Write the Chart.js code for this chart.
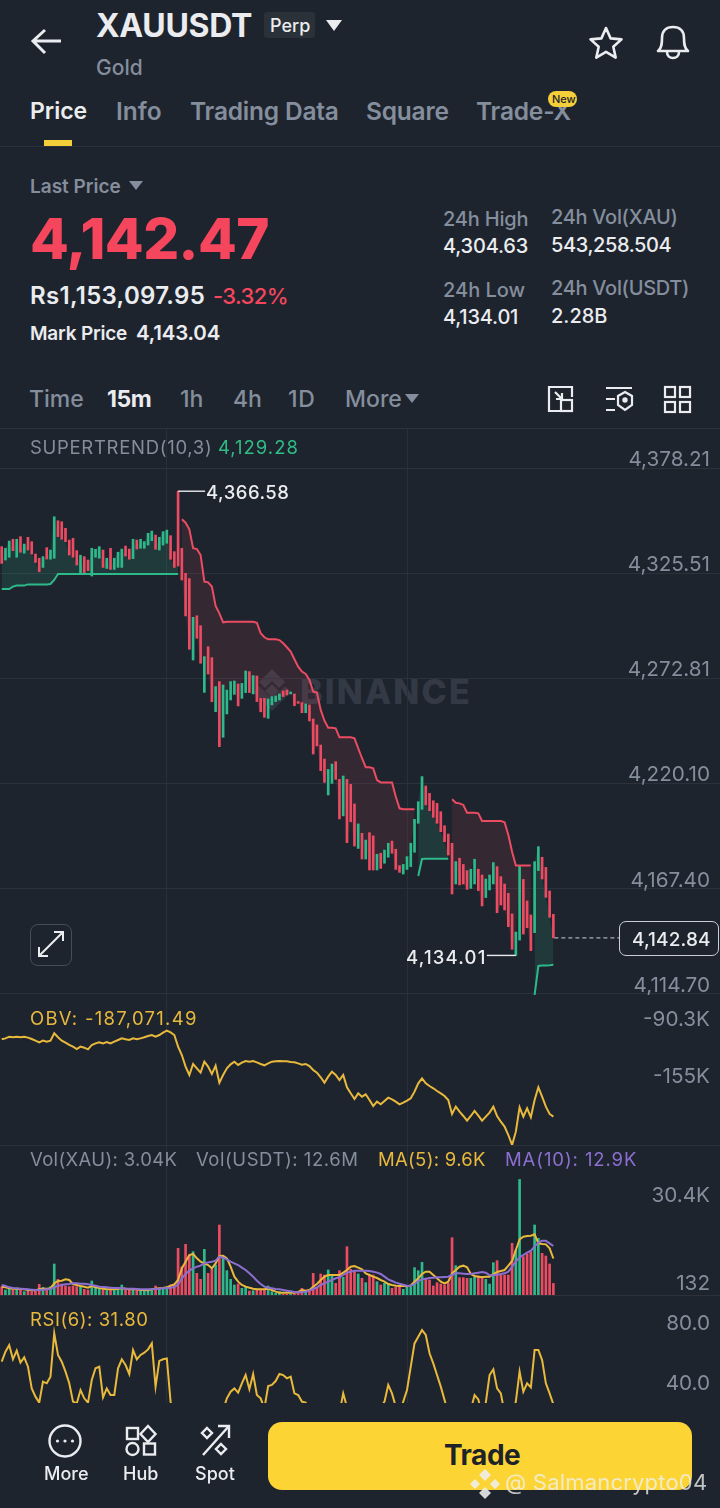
<!DOCTYPE html>
<html><head><meta charset="utf-8">
<script src="https://cdn.jsdelivr.net/npm/chart.js@4/dist/chart.umd.min.js"></script>
<style>
html,body{margin:0;padding:0;background:#1e242e;}
body{width:720px;height:1508px;overflow:hidden;position:relative;font-family:Inter,"Noto Sans",sans-serif;color:#eaecef;}
.t{position:absolute;white-space:nowrap;transform:translateY(-50%);line-height:1;}
.g{color:#848e9c;}
canvas{position:absolute;left:0;display:block;}
.ln{position:absolute;left:0;width:720px;height:1px;background:#2c323c;}
svg{position:absolute;overflow:visible;}
</style></head><body>
<div class="t" style="left:96px;top:26px;font-size:32px;font-weight:700;letter-spacing:-.3px">XAUUSDT</div>
<div style="position:absolute;left:264px;top:12px;width:51px;height:26px;background:#2b3139;border-radius:3px"></div>
<div class="t" style="left:270px;top:26px;font-size:18px;font-weight:500">Perp</div>
<svg style="left:0;top:0" width="720" height="150" fill="none" stroke="#eaecef" stroke-width="3">
<path d="M326 20h16l-8 11z" fill="#eaecef" stroke="none"/>
<path d="M61 41H34M45 30L33 41l12 12"/>
<path d="M606 28l4.6 10.4 10.9 1-8.2 7.4 2.4 10.8-9.7-5.7-9.7 5.700 2.4-10.8-8.2-7.4 10.9-1z" stroke-width="2.6" stroke-linejoin="round"/>
<path d="M658 51c4-3 4-8 4-13 0-7 4-11 11-11s11 4 11 11c0 5 0 10 4 13z M667 52c0 8 12 8 12 0" stroke-width="2.6" stroke-linejoin="round"/>
</svg>
<div class="t g" style="left:96px;top:67px;font-size:21px;font-weight:500">Gold</div>
<div class="t" style="left:30px;top:111px;font-size:23px;font-weight:600">Price</div>
<div class="t g" style="left:116px;top:111px;font-size:24.5px;font-weight:600">Info</div>
<div class="t g" style="left:190px;top:111px;font-size:24.5px;font-weight:600;letter-spacing:-.2px">Trading Data</div>
<div class="t g" style="left:366px;top:111px;font-size:24.5px;font-weight:600;letter-spacing:-.2px">Square</div>
<div class="t g" style="left:476px;top:111px;font-size:24.5px;font-weight:600;letter-spacing:-.2px">Trade-X</div>
<div style="position:absolute;left:548px;top:91px;width:29px;height:16px;background:#f5cf3a;border-radius:8px"></div>
<div class="t" style="left:552px;top:99px;font-size:11px;color:#1e2329;font-weight:500">New</div>
<div style="position:absolute;left:44px;top:140px;width:28px;height:6px;background:#f5cf3a"></div>
<div class="ln" style="top:146px"></div>

<div class="t g" style="left:30px;top:186px;font-size:19px;font-weight:600">Last Price</div>
<svg style="left:0;top:0" width="720" height="420" fill="#848e9c"><path d="M129 181h14l-7 9z"/><path d="M405 394h14l-7 9z"/></svg>
<div class="t" style="left:30px;top:239px;font-size:56.5px;font-weight:800;color:#f6465d;letter-spacing:-.6px">4,142.47</div>
<div class="t" style="left:30px;top:296px;font-size:24px;font-weight:600;letter-spacing:.3px">Rs1,153,097.95</div>
<div class="t" style="left:213px;top:296px;font-size:22px;font-weight:500;color:#f6465d;letter-spacing:-.6px">-3.32%</div>
<div class="t" style="left:30px;top:333px;font-size:19px;font-weight:600;letter-spacing:-.2px">Mark Price</div>
<div class="t" style="left:136px;top:333px;font-size:20.5px;font-weight:600;letter-spacing:-.2px">4,143.04</div>
<div class="t g" style="left:443px;top:219px;font-size:20px;font-weight:500;letter-spacing:-.2px">24h High</div>
<div class="t" style="left:443px;top:246px;font-size:20px;font-weight:500;letter-spacing:-.2px">4,304.63</div>
<div class="t g" style="left:443px;top:290px;font-size:20px;font-weight:500">24h Low</div>
<div class="t" style="left:443px;top:317px;font-size:20px;font-weight:500;letter-spacing:-.2px">4,134.01</div>
<div class="t g" style="left:551px;top:217px;font-size:20px;font-weight:500;letter-spacing:-.3px">24h Vol(XAU)</div>
<div class="t" style="left:551px;top:245px;font-size:20px;font-weight:500;letter-spacing:-.4px">543,258.504</div>
<div class="t g" style="left:551px;top:288px;font-size:20px;font-weight:500;letter-spacing:-.3px">24h Vol(USDT)</div>
<div class="t" style="left:551px;top:316px;font-size:20px;font-weight:500">2.28B</div>

<div class="t g" style="left:29px;top:399px;font-size:23px;font-weight:500">Time</div>
<div class="t" style="left:107px;top:399px;font-size:23px;font-weight:700;letter-spacing:-.4px">15m</div>
<div class="t g" style="left:180px;top:399px;font-size:23px;font-weight:500">1h</div>
<div class="t g" style="left:233px;top:399px;font-size:23px;font-weight:500">4h</div>
<div class="t g" style="left:288px;top:399px;font-size:23px;font-weight:500;letter-spacing:.8px">1D</div>
<div class="t g" style="left:345px;top:399px;font-size:23px;font-weight:500">More</div>
<svg style="left:0;top:0" width="720" height="420" fill="none" stroke="#eaecef" stroke-width="2.2">
<path d="M560 387h-11v24h11M560 387h12v10"/><rect x="561" y="400" width="11" height="11"/><path d="M555 392l7 7M562 393v6h-6"/>
<path d="M606 388h26M606 399h9M606 410h9"/><path d="M625 392l7 4v9l-7 5-7-5v-9z"/><circle cx="625" cy="400" r="1.6" fill="#eaecef"/>
<rect x="665" y="387" width="10" height="10"/><rect x="680" y="387" width="10" height="10"/><rect x="665" y="402" width="10" height="10"/><rect x="680" y="402" width="10" height="10"/>
</svg>
<div class="ln" style="top:428px"></div>

<!-- watermark under the chart -->
<svg style="left:0;top:0" width="720" height="720" fill="#343a45"><path d="M272 669l13 13-6 6-7-7-7 7-6-6z"/><path d="M272 699l13-13 0 0 6 6-19 19-19-19 6-6z" opacity=".8"/><path d="M272 684l7 7-7 7-7-7z"/></svg>
<div class="t" style="left:300px;top:692px;font-size:34px;font-weight:800;color:#343a45;letter-spacing:2.2px">BINANCE</div>

<canvas id="cPrice" width="720" height="566" style="top:429px;width:720px;height:566px"></canvas>
<canvas id="cObv" width="720" height="150" style="top:995px;width:720px;height:150px"></canvas>
<canvas id="cVol" width="720" height="150" style="top:1145px;width:720px;height:150px"></canvas>
<canvas id="cRsi" width="720" height="108" style="top:1295px;width:720px;height:108px"></canvas>
<div class="ln" style="top:1145px"></div>
<div class="ln" style="top:1295px"></div>

<div class="t g" style="left:30px;top:447px;font-size:18.5px;letter-spacing:.7px">SUPERTREND(10,3)</div>
<div class="t" style="left:218px;top:447px;font-size:18.5px;color:#2ebd85;letter-spacing:1px">4,129.28</div>
<div class="t" style="left:206px;top:492px;font-size:18.5px;font-weight:500;letter-spacing:.5px">4,366.58</div>
<div class="t" style="left:406px;top:957px;font-size:18.5px;font-weight:500;letter-spacing:1.2px">4,134.01</div>
<div style="position:absolute;left:619px;top:921px;width:98px;height:33px;border:1.5px solid #c9ced6;border-radius:7px;background:#1e242e"></div>
<div class="t" style="left:632px;top:939px;font-size:19px;font-weight:500;letter-spacing:.1px">4,142.84</div>
<div style="position:absolute;left:30px;top:924px;width:40px;height:40px;border:1.5px solid #474d58;border-radius:8px"></div>
<svg style="left:0;top:0" width="120" height="980" fill="none" stroke="#eaecef" stroke-width="2"><path d="M39 956l24-24M39 947v9h9M63 941v-9h-9"/></svg>

<div class="t" style="left:30px;top:1018px;font-size:18.5px;color:#e9b93c;letter-spacing:1.3px">OBV: -187,071.49</div>
<div class="t g" style="left:30px;top:1159px;font-size:18.5px;letter-spacing:.35px">Vol(XAU): 3.04K</div>
<div class="t g" style="left:196px;top:1159px;font-size:18.5px;letter-spacing:.55px">Vol(USDT): 12.6M</div>
<div class="t" style="left:378px;top:1159px;font-size:18.5px;color:#e9b93c;letter-spacing:.3px">MA(5): 9.6K</div>
<div class="t" style="left:505px;top:1159px;font-size:18.5px;color:#8c6fd0;letter-spacing:.9px">MA(10): 12.9K</div>
<div class="t" style="left:30px;top:1319px;font-size:18.5px;color:#e9b93c;letter-spacing:.55px">RSI(6): 31.80</div>

<div style="position:absolute;left:268px;top:1422px;width:424px;height:68px;border-radius:14px;background:#fcd535"></div>
<div class="t" style="left:444px;top:1455px;font-size:28px;font-weight:700;color:#1e2329;letter-spacing:-.5px">Trade</div>
<svg style="left:0;top:1400px" width="300" height="70" fill="none" stroke="#eaecef" stroke-width="2.4">
<circle cx="65" cy="41" r="15.5"/><circle cx="57.5" cy="41" r="1.6" fill="#eaecef" stroke="none"/><circle cx="65" cy="41" r="1.6" fill="#eaecef" stroke="none"/><circle cx="72.5" cy="41" r="1.6" fill="#eaecef" stroke="none"/>
<rect x="127" y="28" width="11" height="11"/><path d="M148 26l7.500 8-7.500 8-7.500-8z"/><circle cx="132.500" cy="49" r="6"/><rect x="144" y="43.500" width="11" height="11"/>
<path d="M203 55l26-29M218 26h11v12"/><path d="M207 28l5 5-5 5-5-5z"/><path d="M221 44l5 5-5 5-5-5z"/>
</svg>
<div class="t" style="left:44px;top:1474px;font-size:18px;font-weight:500">More</div>
<div class="t" style="left:123px;top:1474px;font-size:18px;font-weight:500">Hub</div>
<div class="t" style="left:195px;top:1474px;font-size:18px;font-weight:500">Spot</div>
<svg style="left:0;top:1460px" width="720" height="48" fill="#f0f0f0" opacity=".88"><path d="M485 9l6 6-6 6-6-6z"/><path d="M475 19l5 5-5 5-5-5zM495 19l5 5-5 5-5-5z"/><path d="M485 27l6 6-6 6-6-6z"/></svg>
<div class="t" style="left:505px;top:1482px;font-size:22px;color:#f0f0f0;opacity:.78;letter-spacing:.2px">@ Salmancrypto04</div>

<script>
// Candle opens and closes (USDT)
const candleOpen = [4338.8,4332.1,4333.5,4342.5,4333.5,4343.8,4335.5,4343.5,4341.3,4335.1,4333.0,4328.4,4338.3,4332.5,4333.0,4351.8,4351.3,4348.0,4342.1,4343.0,4336.8,4325.4,4333.8,4332.1,4324.1,4333.5,4333.0,4337.1,4327.9,4338.0,4327.4,4328.4,4328.4,4339.1,4337.6,4332.8,4342.1,4338.0,4338.0,4339.6,4341.8,4344.6,4337.1,4339.6,4340.5,4344.3,4336.3,4366.6,4338.0,4325.4,4322.8,4282.0,4304.2,4299.2,4265.8,4288.7,4283.2,4256.1,4271.2,4243.3,4255.0,4262.0,4264.8,4270.0,
4262.8,4265.7,4276.2,4265.0,4274.0,4262.8,4262.8,4252.8,4259.5,4261.2,4262.0,4266.5,4267.0,4265.0,4265.0,4261.2,4260.7,4255.6,4259.5,4252.5,4249.5,4239.4,4232.4,4214.4,4220.2,4231.1,4222.2,4203.9,4222.2,4219.7,4209.9,4187.6,4195.2,4182.3,4195.5,4193.9,4176.8,4185.2,4180.2,4183.2,4191.3,4187.2,4179.0,4174.8,4177.1,4178.5,4185.7,
4200.2,4207.2,4218.9,4215.2,4211.5,4210.2,4206.0,4199.0,4194.8,4190.2,4169.8,4182.7,4179.6,4176.5,4167.6,4169.8,4177.2,4174.3,4163.0,4166.8,4169.8,4178.5,4173.5,4169.8,4165.1,4154.8,4134.01,4141.7,4172.1,4161.3,4154.3,4145.4,4176.5,4183.2,4178.1,4166.3,4154.6];
const candleClose = [4330.4,4338.0,4341.6,4336.8,4342.5,4336.0,4340.1,4337.1,4335.1,4330.9,4326.3,4333.8,4332.6,4337.1,4353.8,4343.8,4342.5,4341.3,4334.6,4333.5,4329.6,4334.5,4325.4,4326.8,4338.0,4337.5,4338.8,4328.4,4333.0,4327.4,4333.0,4336.0,4337.6,4334.1,4332.5,4342.5,4337.6,4342.5,4341.3,4345.5,4346.6,4337.5,4343.5,4346.3,4347.1,4332.5,4328.4,4329.1,4322.1,4304.1,4287.4,4303.4,4292.9,4280.4,4283.7,4275.0,4261.1,4268.7,4238.6,4269.5,4267.0,4271.2,4271.5,4259.0,
4270.3,4276.5,4265.7,4274.2,4261.2,4256.1,4253.3,4262.5,4263.7,4264.0,4265.0,4263.7,4264.5,4266.0,4259.1,4260.3,4255.6,4260.0,4251.5,4234.9,4239.0,4226.6,4220.7,4227.2,4229.9,4222.2,4202.4,4223.9,4190.5,4201.0,4188.8,4199.9,4182.3,4191.8,4176.8,4176.8,4184.7,4177.6,4186.8,4190.2,4185.2,4177.1,4175.6,4179.6,4183.5,4190.2,4202.2,
4211.0,4223.6,4209.4,4206.5,4203.2,4200.2,4196.0,4191.0,4184.3,4164.8,4181.0,4169.3,4169.8,4167.1,4177.2,4182.2,4166.5,4158.8,4172.3,4174.3,4180.5,4155.4,4159.3,4156.8,4148.4,4137.1,4145.7,4178.8,4144.7,4147.9,4136.4,4181.0,4188.5,4172.3,4163.1,4153.1,4142.84];
// SUPERTREND(10,3) up and down legs
const superUp = [4317.6,4317.6,4317.6,4318.8,4319.3,4319.3,4319.3,4319.9,4319.9,4319.9,4319.9,4319.9,4319.9,4320.1,4322.1,
4325.1,4325.1,4325.1,4325.1,4325.1,4325.1,4325.1,4325.1,4325.1,4325.1,4325.1,4325.1,4325.1,4325.1,4325.1,4325.1,4325.1,4325.1,4325.1,4325.1,4325.1,4325.1,4325.1,4325.1,4325.1,4325.1,4325.1,4325.1,4325.1,4325.1,4325.1,4325.1,4325.1,
null,null,null,null,null,null,null,null,null,null,null,null,null,null,null,null,null,null,null,null,null,null,null,null,null,null,null,null,null,null,null,null,null,null,null,null,null,null,null,null,null,null,null,null,null,null,null,null,null,null,null,null,null,null,null,null,null,null,null,null,null,null,null,
4173.8,4182.3,4182.4,4182.4,4182.4,4182.4,4182.4,4182.4,4182.4,
null,null,null,null,null,null,null,null,null,null,null,null,null,null,null,null,null,null,null,null,null,null,
4114.2,4128.7,4128.9,4129.0,4129.1,4129.28];
const superDown = [null,null,null,null,null,null,null,null,null,null,null,null,null,null,null,null,null,null,null,null,null,null,null,null,null,null,null,null,null,null,null,null,null,null,null,null,null,null,null,null,null,null,null,null,null,null,null,null,
4352.5,4350.8,4347.5,4338.0,4337.6,4334.6,4321.3,4320.9,4318.8,4309.1,4305.4,4300.9,
4301.2,4301.2,4301.2,4301.2,4301.2,4301.2,4301.2,4301.2,
4300.7,4295.4,4293.4,4292.4,4292.4,4292.4,4292.0,4290.4,4288.4,4286.2,4282.4,4278.7,4276.2,4275.0,4272.0,4266.2,4265.7,4257.0,4251.6,4248.1,4248.1,4247.8,4243.3,4243.3,4243.3,4243.3,4242.8,4237.8,4232.8,4228.3,4228.3,4227.7,4221.9,4220.7,4220.7,4220.7,4220.7,4213.6,4207.7,4207.2,4207.2,4207.2,4207.2,
null,null,null,null,null,null,null,null,null,
4212.2,4210.5,4210.2,4209.4,4205.5,4205.5,4205.5,4205.2,4201.4,4201.4,4201.4,4201.4,4201.4,4201.4,4200.7,4194.3,4186.0,4179.1,4179.1,4179.1,4179.1,4179.1,
null,null,null,null,null,null];
// OBV in thousands
const obv = [-99.3,-98.2,-96.3,-97.0,-96.3,-97.0,-96.3,-97.4,-98.9,-100.8,-102.7,-100.8,-102.0,-100.8,-92.5,-97.0,-100.8,-103.1,-105.7,-107.6,-110.3,-107.6,-108.8,-110.7,-105.7,-103.9,-102.7,-103.9,-102.3,-103.9,-102.0,-100.1,-98.2,-99.3,-100.1,-98.2,-99.3,-98.2,-97.0,-95.5,-94.4,-96.3,-94.4,-91.7,-89.5,-91.4,-94.4,-107.6,-117.1,-130.3,-139.8,-127.3,-132.2,-137.1,-124.7,-130.3,-138.7,-129.2,-148.5,-139.8,-132.2,-127.7,-124.7,-128.4,-125.8,-123.9,-124.7,-123.9,-125.4,-127.3,-128.8,-126.6,-124.7,-124.3,-123.9,-124.3,-124.3,-125.0,-125.4,-126.6,-128.1,-127.3,-129.6,-134.1,-137.1,-142.4,-148.5,-141.7,-136.0,-139.8,-145.5,-139.8,-153.8,-160.6,-167.0,-160.6,-164.4,-161.7,-168.2,-175.0,-170.1,-173.1,-169.3,-165.5,-167.4,-170.1,-173.1,-171.2,-168.9,-166.3,-158.7,-149.3,-143.6,-149.3,-152.3,-154.9,-158.0,-160.6,-163.6,-168.2,-184.0,-175.7,-181.4,-186.3,-191.6,-186.3,-180.6,-185.9,-191.6,-187.1,-182.5,-175.7,-186.3,-192.8,-198.4,-207.9,-219.2,-204.1,-176.5,-187.1,-177.6,-187.8,-168.2,-153.8,-164.4,-175.7,-184.0,-187.07];
// Volume in thousands of XAU
const volume = [2.19,1.32,1.49,1.32,1.49,1.32,.88,1.05,.88,1.05,2.81,2.02,1.75,2.19,8.16,4.12,2.89,2.37,2.19,2.37,2.19,2.19,1.49,1.32,3.68,2.19,1.75,1.32,1.14,1.32,1.32,1.49,2.63,1.32,1.32,1.49,1.32,1.14,1.14,1.32,1.49,2.37,1.75,1.49,1.75,2.63,2.63,
12.28,7.45,13.33,10.52,11.40,5.70,4.12,12.01,5.70,6.75,7.89,18.42,10.09,6.40,4.12,2.63,2.89,1.75,2.02,1.05,1.14,1.32,1.49,1.49,2.37,.88,.44,.88,.26,.26,.26,.26,.44,1.75,.88,1.49,5.70,2.02,5.53,5.26,6.58,5.26,3.07,6.40,4.65,12.72,6.75,6.14,5.53,
4.39,3.25,5.26,5.26,3.51,2.63,3.07,3.07,1.75,2.02,2.19,1.49,2.02,2.19,7.19,6.40,8.59,4.39,3.95,2.37,3.25,2.89,2.63,3.07,15.08,7.72,4.56,4.56,4.39,4.39,4.65,5.0,4.82,4.12,2.89,8.51,9.03,5.26,5.26,5.26,13.59,11.84,30.4,10.09,10.79,11.40,18.42,14.91,10.96,10.26,8.16,3.04];
const ma5 = [2.19,2.02,1.75,1.67,1.67,1.58,1.49,1.32,1.23,1.23,1.49,1.67,1.67,1.75,3.07,3.68,3.77,4.12,3.95,2.89,2.63,2.37,2.19,1.93,2.37,2.02,1.84,1.67,1.49,1.49,1.49,1.67,1.75,1.67,1.49,1.49,1.49,1.32,1.32,1.23,1.49,1.67,1.75,1.84,2.02,2.46,2.81,3.95,7.02,8.77,10.52,10.79,9.65,8.77,8.33,7.89,7.02,8.33,10.26,10.35,9.65,7.45,4.82,3.51,2.63,2.19,1.93,1.67,1.49,1.49,1.49,1.67,1.32,.88,.61,.61,.61,.61,.61,.79,1.32,1.14,1.32,2.19,2.89,3.95,4.82,5.26,5.26,5.26,5.26,5.88,6.58,7.45,7.63,7.19,
6.75,5.70,5.26,4.82,4.47,3.95,3.51,2.89,2.63,2.46,2.37,2.37,2.28,2.54,3.51,4.39,5.53,6.14,6.14,5.26,4.39,3.51,3.07,3.51,5.70,6.58,7.45,7.72,7.28,5.53,5.0,4.82,4.65,4.82,4.82,5.53,6.05,6.31,6.58,7.72,8.95,11.84,14.65,15.35,15.52,15.61,15.96,13.59,13.42,13.33,12.28,9.6];
const ma10 = [2.63,2.37,2.02,1.84,1.75,1.67,1.58,1.49,1.40,1.32,1.32,1.40,1.49,1.58,2.02,2.46,2.63,2.81,2.89,3.07,3.07,2.98,2.98,2.81,2.63,2.46,2.19,2.10,2.02,1.93,1.84,1.84,1.84,1.67,1.67,1.67,1.58,1.49,1.49,1.49,1.49,1.58,1.67,1.75,1.84,1.93,2.10,
2.81,4.39,5.53,6.40,7.02,7.45,7.72,8.33,8.59,8.77,9.03,10.09,9.82,9.38,8.77,8.33,7.89,7.19,6.58,5.70,4.82,3.77,2.89,2.19,1.93,1.75,1.58,1.49,1.32,1.14,.96,.79,.70,.70,.88,1.14,1.58,2.02,2.63,3.07,3.51,3.95,4.39,4.65,5.26,5.88,6.14,6.40,6.40,
6.40,6.40,6.31,6.14,5.88,5.53,4.82,4.12,3.68,3.25,2.98,2.72,2.46,2.37,2.89,3.68,4.12,4.30,4.47,4.56,4.65,4.65,4.74,4.82,5.26,5.70,5.70,5.61,5.53,5.53,5.70,5.88,6.05,5.88,5.17,5.17,5.35,5.53,5.70,6.14,7.45,8.77,9.91,10.52,11.14,11.66,12.72,13.77,14.30,14.30,13.59,12.9];
const rsi = [60.2,66.9,71.3,61.8,67.6,59.6,63.1,56.9,42.4,36.9,32.9,46.9,45.8,50.2,79.1,64.7,60.2,53.6,45.8,33.6,32.4,41.3,35.8,32.9,48.0,55.8,56.9,36.4,42.4,38.0,38.0,55.8,61.8,58.0,52.0,68.0,61.8,64.7,66.2,68.4,72.4,43.6,60.7,61.8,62.4,33.6,
20,18,15,14,12,14,13,17,15,19,16,22,18,
28.0,35.8,40.2,42.4,39.6,45.8,51.3,41.8,52.0,38.0,35.8,29.1,44.0,44.7,47.3,52.0,51.3,49.1,50.2,39.1,38.0,33.6,32.9,
28,24,14,16,12,10,12,18,26,39.1,30,26,22,20,18,20,16,19,22,30,33.6,44.7,39.1,30.2,26.9,33.6,41.3,56.9,72.4,76.9,81.3,78.0,65.8,59.1,51.3,43.6,34.7,25.8,
16,20,21,24,22,28,38,35.1,24.7,32.9,51.3,55.1,42.4,39.1,25.8,24,26,33.6,53.6,40.2,45.8,43.1,68,68,61.3,45.8,39.1,31.8];
// Axis ticks
const priceTicks = [4378.21,4325.51,4272.81,4220.10,4167.40,4114.70];
const priceTickLabels = ['4,378.21','4,325.51','4,272.81','4,220.10','4,167.40','4,114.70'];
const obvTicks = [-90.3,-155];
const obvTickLabels = ['-90.3K','-155K'];
const volTopTick = [30.4];
const volTopLabel = ['30.4K'];
const volBottomTick = [0.132];
const volBottomLabel = ['132'];
const rsiTicks = [80,40];
const rsiTickLabels = ['80.0','40.0'];
const timeTicks = [44,108];
const highPrice = 4366.58, highIndex = 47, lowPrice = 4134.01, lowIndex = 137, lastPrice = 4142.84;

const RED='#ec4c62', GREEN='#2eb98a', YEL='#e9b93c', PUR='#8c6fd0', GRID='#2c323c', TICK='#848e9c';
const pts = a => a.map((v,i)=>({x:i,y:v}));
const colors = () => candleOpen.map((o,i)=>candleClose[i]>=o?GREEN:RED);
const closeWhere = s => candleClose.map((c,i)=>s[i]==null?null:c);
const xScale = {type:'linear',min:-0.453,max:191.4,offset:false,
  grid:{color:'#2a303a',offset:false,drawTicks:false,lineWidth:1},border:{display:false},
  ticks:{display:false},afterBuildTicks:a=>{a.ticks=timeTicks.map(v=>({value:v}));},
  afterFit:a=>{a.height=0;a.paddingLeft=0;a.paddingRight=0;}};
function yAxis(min,max,vals,labels,offset,grid){
  return {type:'linear',position:'right',min,max,
    grid:{display:!!grid,color:GRID,drawTicks:false,lineWidth:1},border:{display:false},
    ticks:{mirror:true,padding:-10,autoSkip:false,color:TICK,font:{family:'Inter',size:20.7},labelOffset:offset,
      callback:v=>labels[vals.indexOf(v)]},
    afterBuildTicks:a=>{a.ticks=vals.map(v=>({value:v}));},
    afterFit:a=>{a.width=0;a.paddingTop=0;a.paddingBottom=0;}};
}
function make(id,datasets,yScales,plugins){
  return new Chart(document.getElementById(id),{type:'bar',data:{datasets},plugins:plugins||[],
    options:{responsive:false,animation:false,
      layout:{autoPadding:false,padding:0},
      plugins:{legend:{display:false},tooltip:{enabled:false}},
      scales:Object.assign({x:xScale},yScales)}});
}
const line=(data,color,extra)=>Object.assign({type:'line',data:pts(data),borderColor:color,borderWidth:2,pointRadius:0,tension:0,fill:false,spanGaps:false,order:0},extra||{});

const marks={id:'marks',afterDatasetsDraw(c){
  const g=c.ctx,X=c.scales.x,Y=c.scales.y;
  g.save();g.strokeStyle='#e8eaee';g.lineWidth=1.4;
  const hx=X.getPixelForValue(highIndex),hy=Y.getPixelForValue(highPrice);
  g.beginPath();g.moveTo(hx,hy);g.lineTo(hx+27,hy);g.stroke();
  const lx=X.getPixelForValue(lowIndex),ly=Y.getPixelForValue(lowPrice);
  g.beginPath();g.moveTo(lx,ly);g.lineTo(lx-29,ly);g.stroke();
  const ex=X.getPixelForValue(candleClose.length-1),ey=Y.getPixelForValue(lastPrice);
  g.setLineDash([4,3]);g.strokeStyle='#aab0ba';g.lineWidth=1.2;
  g.beginPath();g.moveTo(ex+1,ey);g.lineTo(619,ey);g.stroke();g.restore();
}};

make('cPrice',[
  {type:'bar',data:candleOpen.map((o,i)=>({x:i,y:[o,candleClose[i]]})),backgroundColor:colors(),barThickness:2,order:1},
  line(superUp,GREEN),
  line(superDown,RED),
  line(closeWhere(superUp),'transparent',{borderWidth:0,fill:{target:1},backgroundColor:'rgba(46,185,138,.15)',order:3}),
  line(closeWhere(superDown),'transparent',{borderWidth:0,fill:{target:2},backgroundColor:'rgba(236,76,98,.11)',order:3})
],{y:yAxis(4114.18,4397.75,priceTicks,priceTickLabels,-8.5,true)},[marks]);

make('cObv',[line(obv,YEL)],{y:yAxis(-219.24,-49.0,obvTicks,obvTickLabels,-12)});

make('cVol',[
  {type:'bar',data:pts(volume),backgroundColor:colors(),barThickness:2,order:1},
  line(ma10,PUR),
  line(ma5,YEL)
],{y:yAxis(0,39.47,volTopTick,volTopLabel,16),y2:yAxis(0,39.47,volBottomTick,volBottomLabel,-11)});

make('cRsi',[line(rsi,YEL)],{y:yAxis(32.67,104.67,rsiTicks,rsiTickLabels,-8.5)});
</script>
</body></html>
